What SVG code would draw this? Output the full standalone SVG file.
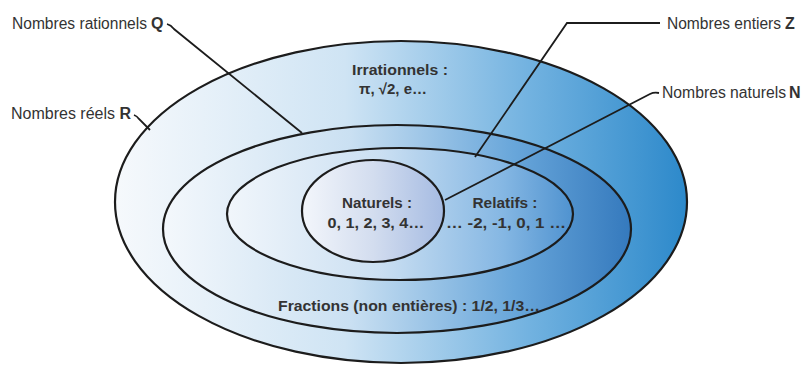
<svg xmlns="http://www.w3.org/2000/svg" width="802" height="365" viewBox="0 0 802 365">
<defs>
<linearGradient id="gR" gradientUnits="userSpaceOnUse" x1="115" y1="0" x2="690" y2="0">
<stop offset="0" stop-color="#f6f9fc"/><stop offset="0.4" stop-color="#cfe4f4"/><stop offset="0.72" stop-color="#72b2e0"/><stop offset="1" stop-color="#2b88ca"/>
</linearGradient>
<linearGradient id="gQ" gradientUnits="userSpaceOnUse" x1="162" y1="0" x2="632" y2="0">
<stop offset="0" stop-color="#f4f8fc"/><stop offset="0.4" stop-color="#cae0f2"/><stop offset="0.75" stop-color="#68a6da"/><stop offset="1" stop-color="#3479bd"/>
</linearGradient>
<linearGradient id="gZ" gradientUnits="userSpaceOnUse" x1="227" y1="0" x2="572" y2="0">
<stop offset="0" stop-color="#f1f6fb"/><stop offset="0.45" stop-color="#cadff2"/><stop offset="0.8" stop-color="#85b7e3"/><stop offset="1" stop-color="#5093d0"/>
</linearGradient>
<linearGradient id="gN" gradientUnits="userSpaceOnUse" x1="302" y1="0" x2="444" y2="0">
<stop offset="0" stop-color="#f3f6fb"/><stop offset="0.5" stop-color="#d3ddef"/><stop offset="1" stop-color="#a5bbe2"/>
</linearGradient>
<style>
.e{stroke:#1c1c1c;stroke-width:2.2}
.l{fill:none;stroke:#1c1c1c;stroke-width:1.8}
.t{font-family:"Liberation Sans Narrow","Liberation Sans",sans-serif;fill:#333;font-weight:bold;font-size:15px}
.lb{font-family:"Liberation Sans Narrow","Liberation Sans",sans-serif;fill:#333;font-size:16px}
.b{font-weight:bold}
</style>
</defs>
<rect width="802" height="365" fill="#ffffff"/>
<g id="R"><ellipse class="e" cx="401" cy="202" rx="286" ry="161" fill="url(#gR)"/></g>
<g id="Q"><ellipse class="e" cx="397" cy="229" rx="234" ry="104" fill="url(#gQ)"/></g>
<g id="Z"><ellipse class="e" cx="400" cy="214" rx="173" ry="66" fill="url(#gZ)"/></g>
<g id="N"><ellipse class="e" cx="373" cy="211" rx="71" ry="51" fill="url(#gN)"/></g>
<g id="connectors">
<path class="l" d="M167,24 Q171,25 174,29 L302,133"/>
<path class="l" d="M134,115 Q137,116 139,119 L150,130"/>
<path class="l" d="M660,23 L567,23 L475,157"/>
<path class="l" d="M659,93 Q654,92 650,94 L445,200"/>
</g>
<g id="texts">
<text class="t" x="400" y="75" text-anchor="middle" textLength="96" lengthAdjust="spacingAndGlyphs">Irrationnels :</text>
<text class="t" x="393" y="94" text-anchor="middle">π, √2, e…</text>
<text class="t" x="377" y="208" text-anchor="middle" textLength="70" lengthAdjust="spacingAndGlyphs">Naturels :</text>
<text class="t" x="376" y="228" text-anchor="middle" textLength="97" lengthAdjust="spacingAndGlyphs">0, 1, 2, 3, 4…</text>
<text class="t" x="505" y="208" text-anchor="middle" textLength="65" lengthAdjust="spacingAndGlyphs">Relatifs :</text>
<text class="t" x="506" y="228" text-anchor="middle" textLength="120" lengthAdjust="spacingAndGlyphs">… -2, -1, 0, 1 …</text>
<text class="t" x="409" y="311" text-anchor="middle" textLength="262" lengthAdjust="spacingAndGlyphs">Fractions (non entières) : 1/2, 1/3…</text>
</g>
<g id="labels">
<text class="lb" x="12" y="29" textLength="135" lengthAdjust="spacingAndGlyphs">Nombres rationnels</text>
<text class="lb b" x="151" y="29">Q</text>
<text class="lb" x="11" y="119" font-size="14.5">Nombres réels <tspan class="b">R</tspan></text>
<text class="lb" x="667" y="29" textLength="114" lengthAdjust="spacingAndGlyphs">Nombres entiers</text>
<text class="lb b" x="785" y="29">Z</text>
<text class="lb" x="662" y="98" textLength="124" lengthAdjust="spacingAndGlyphs">Nombres naturels</text>
<text class="lb b" x="789" y="98">N</text>
</g>
</svg>
